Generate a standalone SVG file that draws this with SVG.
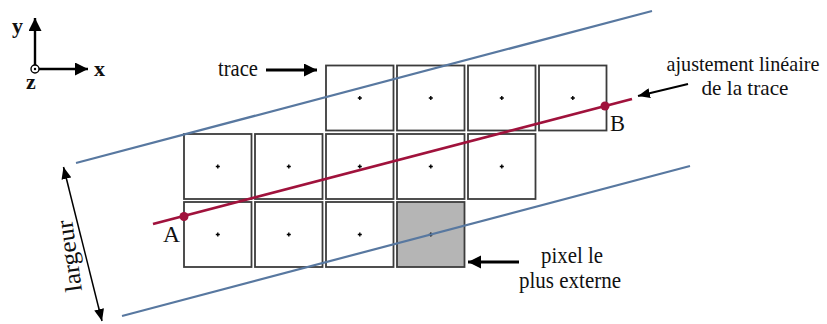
<svg xmlns="http://www.w3.org/2000/svg" width="827" height="324" viewBox="0 0 827 324">
<style>
.px{fill:#ffffff;stroke:#3c3c3c;stroke-width:1.8}
.px.out{fill:#b5b5b5}
.ctr{stroke:#000;stroke-width:1.4;fill:none}
.t{font-family:"Liberation Serif","Times New Roman",serif;font-size:24px;fill:#111}
.t2{font-family:"Liberation Serif","Times New Roman",serif;font-size:21px;fill:#111}
.ax{font-family:"Liberation Serif","Times New Roman",serif;font-size:22px;font-weight:bold;fill:#111}
.blue{stroke:#5878a0;stroke-width:2.2;fill:none}
.red{stroke:#a0123c;stroke-width:2.8;fill:none}
.arr{stroke:#000;fill:none}
</style>
<defs>
<marker id="ah" markerUnits="userSpaceOnUse" markerWidth="14" markerHeight="14" refX="13" refY="6.5" orient="auto-start-reverse">
<path d="M0,0 L13,6.5 L0,13 z" fill="#000"/>
</marker>
<marker id="ahs" markerUnits="userSpaceOnUse" markerWidth="12" markerHeight="10" refX="12" refY="5" orient="auto-start-reverse">
<path d="M0,0 L12,5 L0,10 z" fill="#000"/>
</marker>
</defs>

<g id="axes">
<line class="arr" x1="35" y1="65" x2="35" y2="18" stroke-width="2.4" marker-end="url(#ah)"/>
<line class="arr" x1="39" y1="69" x2="88" y2="69" stroke-width="2.4" marker-end="url(#ah)"/>
<circle cx="35" cy="69" r="4" fill="#fff" stroke="#000" stroke-width="1.4"/>
<circle cx="35" cy="69" r="1.2" fill="#000"/>
<text class="ax" x="12" y="33">y</text>
<text class="ax" x="94" y="76">x</text>
<text class="ax" x="26" y="89">z</text>
</g>

<g id="pixel-r1c3"><rect class="px" x="326" y="65.5" width="67.5" height="65"/><path class="ctr" d="M357.8,98h4M359.8,96v4"/></g>
<g id="pixel-r1c4"><rect class="px" x="397" y="65.5" width="67.5" height="65"/><path class="ctr" d="M428.8,98h4M430.8,96v4"/></g>
<g id="pixel-r1c5"><rect class="px" x="468" y="65.5" width="67.5" height="65"/><path class="ctr" d="M499.8,98h4M501.8,96v4"/></g>
<g id="pixel-r1c6"><rect class="px" x="539" y="65.5" width="67.5" height="65"/><path class="ctr" d="M570.8,98h4M572.8,96v4"/></g>

<g id="pixel-r2c1"><rect class="px" x="184" y="134" width="67.5" height="65"/><path class="ctr" d="M215.8,166.5h4M217.8,164.5v4"/></g>
<g id="pixel-r2c2"><rect class="px" x="255" y="134" width="67.5" height="65"/><path class="ctr" d="M286.8,166.5h4M288.8,164.5v4"/></g>
<g id="pixel-r2c3"><rect class="px" x="326" y="134" width="67.5" height="65"/><path class="ctr" d="M357.8,166.5h4M359.8,164.5v4"/></g>
<g id="pixel-r2c4"><rect class="px" x="397" y="134" width="67.5" height="65"/><path class="ctr" d="M428.8,166.5h4M430.8,164.5v4"/></g>
<g id="pixel-r2c5"><rect class="px" x="468" y="134" width="67.5" height="65"/><path class="ctr" d="M499.8,166.5h4M501.8,164.5v4"/></g>

<g id="pixel-r3c1"><rect class="px" x="184" y="202" width="67.5" height="65"/><path class="ctr" d="M215.8,234.5h4M217.8,232.5v4"/></g>
<g id="pixel-r3c2"><rect class="px" x="255" y="202" width="67.5" height="65"/><path class="ctr" d="M286.8,234.5h4M288.8,232.5v4"/></g>
<g id="pixel-r3c3"><rect class="px" x="326" y="202" width="67.5" height="65"/><path class="ctr" d="M357.8,234.5h4M359.8,232.5v4"/></g>
<g id="pixel-r3c4-outer"><rect class="px out" x="397" y="202" width="67.5" height="65"/><path class="ctr" d="M428.8,234.5h4M430.8,232.5v4"/></g>

<g id="connectors">
<line class="blue" x1="76" y1="163" x2="652" y2="11"/>
<line class="blue" x1="122" y1="316" x2="690" y2="166"/>
<line class="red" x1="153" y1="224" x2="632" y2="99"/>
<line class="arr" x1="266" y1="70" x2="317" y2="70" stroke-width="3" marker-end="url(#ah)"/>
<line class="arr" x1="688" y1="84" x2="638" y2="96" stroke-width="2" marker-end="url(#ahs)"/>
<line class="arr" x1="519" y1="262" x2="468" y2="262" stroke-width="3" marker-end="url(#ah)"/>
<line class="arr" x1="63.5" y1="167" x2="102" y2="321" stroke-width="1.5" marker-start="url(#ahs)" marker-end="url(#ahs)"/>
</g>

<g id="point-A">
<circle cx="184" cy="216.5" r="4.5" fill="#a0123c"/>
<text class="t" x="163" y="242" textLength="17" lengthAdjust="spacingAndGlyphs">A</text>
</g>
<g id="point-B">
<circle cx="605" cy="106" r="4.5" fill="#a0123c"/>
<text class="t" x="610" y="131" textLength="15" lengthAdjust="spacingAndGlyphs">B</text>
</g>

<g id="label-trace"><text class="t" x="218" y="75.5" textLength="40" lengthAdjust="spacingAndGlyphs">trace</text></g>
<g id="label-ajustement">
<text class="t2" x="743" y="71" text-anchor="middle" textLength="153" lengthAdjust="spacingAndGlyphs">ajustement linéaire</text>
<text class="t2" x="745" y="95" text-anchor="middle" textLength="87" lengthAdjust="spacingAndGlyphs">de la trace</text>
</g>
<g id="label-pixel">
<text class="t" x="572" y="263" text-anchor="middle" textLength="62" lengthAdjust="spacingAndGlyphs">pixel le</text>
<text class="t" x="570" y="288" text-anchor="middle" textLength="102" lengthAdjust="spacingAndGlyphs">plus externe</text>
</g>
<g id="label-largeur">
<text class="t" transform="translate(77,255) rotate(-98)" text-anchor="middle" textLength="72" lengthAdjust="spacingAndGlyphs">largeur</text>
</g>
</svg>
